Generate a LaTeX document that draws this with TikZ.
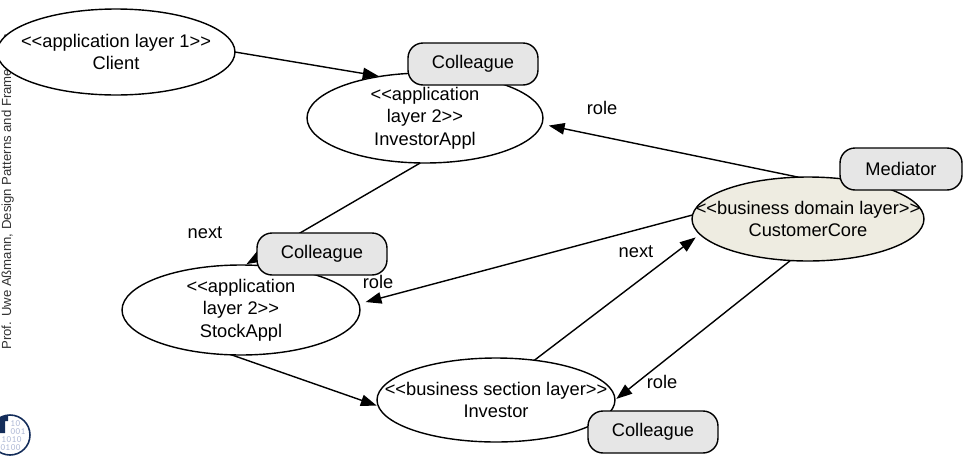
\documentclass[tikz,border=0pt]{standalone}
\usepackage{fontspec}
\setmainfont{Liberation Sans}[Ligatures=TeXOff]
\usetikzlibrary{shapes.geometric,arrows.meta}
\definecolor{corefill}{RGB}{238,236,225}
\definecolor{rolefill}{RGB}{230,230,230}
\definecolor{tublue}{RGB}{20,45,90}
\definecolor{tudigit}{RGB}{176,186,214}

\begin{document}
\begin{tikzpicture}[x=0.02cm,y=-0.02cm,
    layer/.style={ellipse,draw,line width=0.8pt,fill=white,inner sep=0pt,outer sep=0pt},
    txt/.style={align=center,inner sep=0pt,font=\fontsize{10.4}{12.8}\selectfont},
    rolebox/.style={draw,line width=0.8pt,fill=rolefill,rounded corners=0.3cm,minimum width=2.6cm,minimum height=0.84cm,font=\fontsize{10.4}{12.8}\selectfont},
    conn/.style={-{Triangle[length=9pt,width=6.5pt]},line width=0.8pt,shorten >=1pt},
    lbl/.style={inner sep=0pt,font=\fontsize{10.4}{12.8}\selectfont},
    digits/.style={inner sep=0pt,anchor=west,text height=3.6pt,text depth=0pt,text=tudigit,font=\fontsize{5.5}{5.5}\ttfamily}]
    \useasboundingbox (0,0) rectangle (964,457);
    % footer and logo
    \node[rotate=90,anchor=base west,inner sep=0pt,text=black!80,font=\fontsize{7.5}{9}\selectfont] (footer) at (11,350) {Prof. Uwe Aßmann, Design Patterns and Frameworks};
    \coordinate (logo) at (10,435);
    \begin{scope}
        \clip (logo) circle (20);
        \node[digits] (d1) at (10,423) {10};
        \node[digits] (d2) at (10,431) {001};
        \node[digits] (d3) at (1,439) {1010};
        \node[digits] (d4) at (0,447) {0100};
        \fill[tublue] (-12,416) -- (8,416) -- (8,421) -- (5,421) -- (5,433) -- (-12,433) -- cycle;
    \end{scope}
    \draw[tublue,line width=0.9pt] (logo) circle (20);
    % layers
    \node[layer,minimum width=4.76cm,minimum height=1.72cm,label={[txt]center:{<<application layer 1>>\\Client}}] (client) at (116,52) {};
    \node[layer,minimum width=4.72cm,minimum height=1.8cm,label={[txt]center:{<<application\\layer 2>>\\InvestorAppl}}] (invappl) at (425,118) {};
    \node[layer,minimum width=4.76cm,minimum height=1.8cm,label={[txt]center:{<<application\\layer 2>>\\StockAppl}}] (stockappl) at (241,310) {};
    \node[layer,minimum width=4.76cm,minimum height=1.68cm,label={[txt]center:{<<business section layer>>\\Investor}}] (investor) at (496,400) {};
    \node[layer,fill=corefill,minimum width=4.64cm,minimum height=1.68cm,label={[txt]center:{<<business domain layer>>\\CustomerCore}}] (core) at (808,219) {};
    % connectors
    \draw[conn] (client.east) -- (invappl.137);
    \draw[conn,shorten >=4pt] (core.103) -- (invappl.-3);
    \draw[conn] (invappl.-96) -- (stockappl.85);
    \draw[conn,shorten >=4pt] (core.178) -- (stockappl.3);
    \draw[conn] (stockappl.-102) -- (investor.183);
    \draw[conn,shorten >=3pt] (investor.46) -- (core.188);
    \draw[conn] (core.-113) -- (investor.east);
    \node[lbl] (role1) at (602,108) {role};
    \node[lbl] (next1) at (205,233) {next};
    \node[lbl] (role2) at (378,282) {role};
    \node[lbl] (next2) at (636,252) {next};
    \node[lbl] (role3) at (662,382) {role};
    % roles
    \node[rolebox] (col1) at (473,64) {Colleague};
    \node[rolebox] (col2) at (322,254) {Colleague};
    \node[rolebox,minimum width=2.44cm] (mediator) at (901,169) {Mediator};
    \node[rolebox] (col3) at (653,432) {Colleague};
\end{tikzpicture}
\end{document}
